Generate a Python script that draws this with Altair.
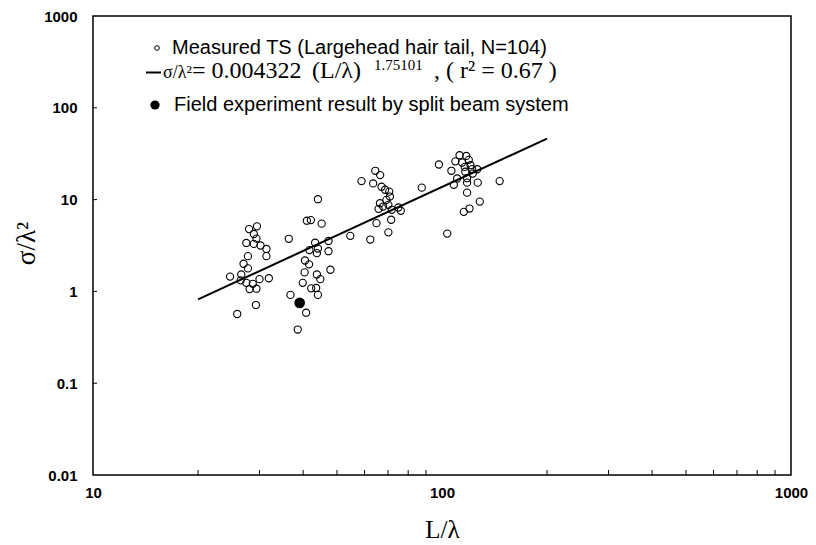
import altair as alt
import pandas as pd

# Measured TS (Largehead hair tail)
meas_x = [28.0, 29.5, 28.9, 29.4, 27.5, 28.9, 30.2, 31.4, 31.4, 27.8, 27.0, 27.8, 24.7, 26.6, 26.5,
          27.5, 28.7, 30.0, 31.9, 28.1, 29.4, 29.3, 25.9,
          44.1, 41.0, 42.1, 45.2, 36.4, 43.3, 47.3, 41.7, 43.8, 47.3, 40.5, 41.6, 40.4, 43.8, 47.9,
          44.8, 39.9, 42.2, 43.6, 44.1, 36.8, 40.8, 38.6, 54.6, 44.1,
          64.4, 66.5, 58.8, 63.5, 67.1, 68.7, 70.6, 70.9, 69.3, 66.4, 70.2, 65.8, 71.8, 75.0, 76.2,
          87.5, 64.9, 71.5, 70.2, 62.3, 67.8,
          98.0, 112.3, 117.4, 109.2, 114.2, 119.3, 120.7, 116.2, 106.4, 122.0, 126.2, 116.6, 122.5,
          110.5, 118.0, 108.1, 118.0, 126.6, 146.3, 118.0, 128.3, 119.9, 115.5, 103.5]
meas_y = [4.77, 5.11, 4.22, 3.76, 3.37, 3.29, 3.16, 2.90, 2.42, 2.42, 2.00, 1.78, 1.45, 1.53, 1.32,
          1.24, 1.21, 1.36, 1.39, 1.06, 1.07, 0.71, 0.567,
          10.1, 5.89, 5.98, 5.47, 3.74, 3.39, 3.54, 2.82, 2.61, 2.74, 2.17, 1.97, 1.61, 1.53, 1.72,
          1.36, 1.24, 1.08, 1.09, 0.916, 0.916, 0.586, 0.384, 4.03, 2.93,
          20.6, 18.5, 15.9, 15.0, 13.8, 12.8, 12.2, 10.8, 9.93, 9.12, 8.77, 7.93, 7.74, 8.20, 7.55,
          13.5, 5.54, 6.03, 4.40, 3.67, 8.40,
          24.1, 30.4, 29.9, 26.1, 25.3, 27.1, 23.7, 22.7, 20.6, 21.5, 21.4, 20.1, 19.2,
          17.0, 17.1, 14.5, 15.3, 15.3, 15.9, 11.9, 9.51, 7.99, 7.36, 4.26]

# Field experiment (split beam)
field_x = [39.1]
field_y = [0.75]

# Regression line end points
fit_x = [20, 200]
fit_y = [0.82, 46.2]

x_labels = [10, 100, 1000]
x_minor = [20, 30, 40, 50, 60, 70, 80, 90, 200, 300, 400, 500, 600, 700, 800, 900]
y_labels = [0.01, 0.1, 1, 10, 100, 1000]
y_ticks = [0.1, 1, 10, 100]

legend_texts = ["Measured TS (Largehead hair tail, N=104)",
                "Field experiment result by split beam system"]
eq_parts = ["σ/λ²", "= 0.004322", "(L/λ)", "1.75101", ", ( r² = 0.67 )"]

W, H = 698, 459
xs = alt.Scale(type="log", domain=[10, 1000], nice=False)
ys = alt.Scale(type="log", domain=[0.01, 1000], nice=False)

SANS = "Liberation Sans"
SERIF = "Liberation Serif"

x_axis = alt.Axis(values=x_labels, format="~g", title="L/λ", domain=False, ticks=False, tickSize=0,
                  grid=False, labelFont=SANS, labelFontWeight="bold", labelFontSize=15,
                  labelColor="black", labelPadding=10, labelFlush=False, labelOverlap=False,
                  titleFont=SERIF, titleFontSize=25, titleFontWeight="normal", titleColor="black",
                  titleX=349, titleY=62, titleAlign="center", titleBaseline="alphabetic")
y_axis = alt.Axis(values=y_labels, format="~g", title="σ/λ²", domain=False, ticks=False, tickSize=0,
                  grid=False, labelFont=SANS, labelFontWeight="bold", labelFontSize=15,
                  labelColor="black", labelPadding=16, labelFlush=False, labelOverlap=False,
                  titleFont=SERIF, titleFontSize=27, titleFontWeight="normal", titleColor="black",
                  titleX=-67, titleY=227, titleAngle=270, titleAlign="center", titleBaseline="middle")


def X(field):
    return alt.X(field, type="quantitative", scale=xs, axis=x_axis)


def Y(field):
    return alt.Y(field, type="quantitative", scale=ys, axis=y_axis)


meas = pd.DataFrame({"x": meas_x, "y": meas_y})
points = alt.Chart(meas).mark_point(shape="circle", filled=False, color="black", size=52,
                                    strokeWidth=1.1, opacity=1).encode(x=X("x"), y=Y("y"))

fit = pd.DataFrame({"x": fit_x, "y": fit_y})
line = alt.Chart(fit).mark_line(color="black", strokeWidth=2).encode(x=X("x"), y=Y("y"))

field = pd.DataFrame({"x": field_x, "y": field_y})
field_pt = alt.Chart(field).mark_point(shape="circle", filled=True, color="black", size=115,
                                       opacity=1).encode(x=X("x"), y=Y("y"))

# inward ticks
xt = pd.DataFrame({"x": x_minor})
x_ticks = alt.Chart(xt).mark_rule(color="black", strokeWidth=1).encode(
    x=X("x"), y=alt.value(H), y2=alt.value(H - 5))
yt = pd.DataFrame({"y": y_ticks})
y_tick_marks = alt.Chart(yt).mark_rule(color="black", strokeWidth=1).encode(
    y=Y("y"), x=alt.value(0), x2=alt.value(4))

# legend (positions relative to plot area origin)
TOP = 8
leg1_sym = alt.Chart(pd.DataFrame({"t": [legend_texts[0]]})).mark_point(
    shape="circle", filled=False, color="black", size=22, strokeWidth=1, opacity=1).encode(
    x=alt.value(64), y=alt.value(48 - 16))
leg1_txt = alt.Chart(pd.DataFrame({"t": [legend_texts[0]]})).mark_text(
    align="left", baseline="alphabetic", font=SANS, fontSize=20, color="black").encode(
    x=alt.value(79), y=alt.value(54 - 16), text="t:N")
leg3_sym = alt.Chart(pd.DataFrame({"t": [legend_texts[1]]})).mark_point(
    shape="circle", filled=True, color="black", size=85, opacity=1).encode(
    x=alt.value(62), y=alt.value(105 - 16))
leg3_txt = alt.Chart(pd.DataFrame({"t": [legend_texts[1]]})).mark_text(
    align="left", baseline="alphabetic", font=SANS, fontSize=20, color="black").encode(
    x=alt.value(81), y=alt.value(111 - 16), text="t:N")
leg2_dash = alt.Chart(pd.DataFrame({"t": [eq_parts[0]]})).mark_rule(
    color="black", strokeWidth=2).encode(
    x=alt.value(53), x2=alt.value(68), y=alt.value(72.5 - 16))

eq_x = [70, 99, 219, 281, 341]
eq_y = [77.5 - 16, 77.5 - 16, 77.5 - 16, 70 - 16, 77.5 - 16]
eq_size = [18, 24, 24, 15, 24]
eq_layers = []
for t, px, py, fs in zip(eq_parts, eq_x, eq_y, eq_size):
    eq_layers.append(
        alt.Chart(pd.DataFrame({"t": [t]})).mark_text(
            align="left", baseline="alphabetic", font=SERIF, fontSize=fs, color="black").encode(
            x=alt.value(px), y=alt.value(py), text="t:N"))

chart = alt.layer(
    points, line, field_pt, x_ticks, y_tick_marks,
    leg1_sym, leg1_txt, leg2_dash, *eq_layers, leg3_sym, leg3_txt,
).properties(
    width=W, height=H,
    background="white",
    autosize=alt.AutoSizeParams(type="none"),
    padding={"left": 85, "top": TOP, "right": 17, "bottom": 70},
).configure_view(stroke="black", strokeWidth=1.5)

chart.save("out.html", embed_options={"renderer": "svg", "actions": False})
